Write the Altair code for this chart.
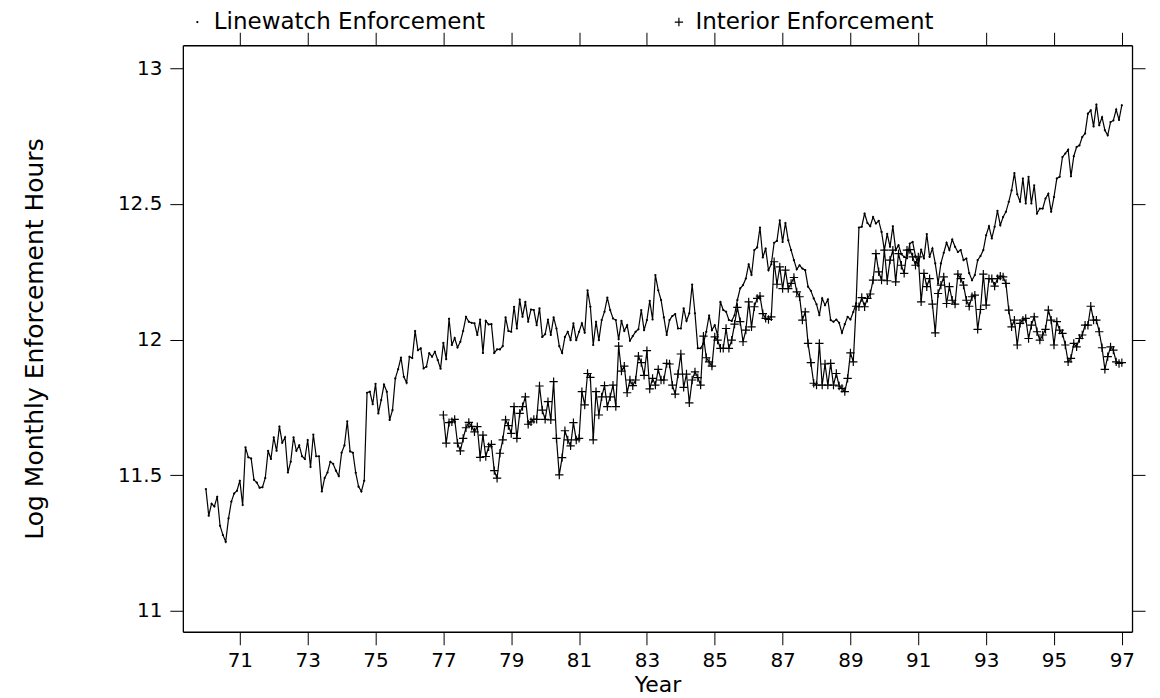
import altair as alt
import pandas as pd

# ---------------- data (log monthly enforcement hours) ----------------
SERIES = ["Linewatch Enforcement", "Interior Enforcement"]
LW_START = 70.0   # first linewatch month (year 1970)
IN_START = 77.0   # first interior month (year 1977)
YEAR_TICKS = list(range(71, 98, 2))
LOG_TICKS = [11, 11.5, 12, 12.5, 13]

lw_1970_73 = [11.449, 11.351, 11.395, 11.385, 11.421, 11.314, 11.28, 11.255, 11.341, 11.403,
              11.433, 11.443, 11.48, 11.39, 11.603, 11.566, 11.562, 11.483, 11.473, 11.454,
              11.456, 11.49, 11.59, 11.56, 11.64, 11.59, 11.68, 11.62, 11.64, 11.51,
              11.55, 11.64, 11.59, 11.61, 11.57, 11.56, 11.63, 11.53, 11.65, 11.57,
              11.57, 11.44, 11.49, 11.51]
lw_1973_77 = [11.55, 11.542, 11.517, 11.497, 11.583, 11.61, 11.699, 11.588, 11.583, 11.509,
              11.458, 11.44, 11.48, 11.804, 11.808, 11.762, 11.837, 11.728, 11.777, 11.834,
              11.808, 11.704, 11.74, 11.857, 11.891, 11.934, 11.863, 11.841, 11.937, 11.932,
              12.032, 11.961, 11.968, 11.894, 11.9, 11.95, 11.937, 11.955, 11.925, 11.893,
              11.988, 11.928, 12.077, 11.98, 12.006, 11.971, 11.992, 12.032, 12.084, 12.066]
lw_1977_81 = [12.062, 12.06, 12.017, 12.074, 11.951, 12.069, 12.056, 12.057, 11.951, 11.964,
              11.964, 11.976, 12.082, 12.032, 12.029, 12.121, 12.041, 12.148, 12.084, 12.139,
              12.066, 12.111, 12.109, 12.053, 12.115, 12.01, 12.02, 12.074, 12.017, 12.082,
              12.041, 11.976, 11.951, 12.01, 12.029, 11.998, 12.06, 11.998, 12.029, 12.06,
              12.025, 12.182, 12.121, 11.98, 12.066, 11.998]
lw_1981_85 = [12.072, 12.103, 12.155, 12.109, 12.078, 12.072, 12.001, 12.069, 12.032, 12.053,
              11.996, 12.013, 12.029, 12.038, 12.109, 12.035, 12.072, 12.143, 12.074, 12.238,
              12.182, 12.146, 12.082, 12.017, 12.072, 12.087, 12.094, 12.041, 12.041, 12.115,
              12.069, 12.097, 12.203, 12.097, 11.968, 11.968, 11.986, 12.029, 12.089, 12.035,
              12.053, 12.017, 12.139, 12.109, 12.103, 12.072, 12.069, 12.09, 12.146, 12.189]
lw_1985_89 = [12.201, 12.225, 12.278, 12.238, 12.33, 12.34, 12.413, 12.303, 12.336, 12.256,
              12.278, 12.357, 12.364, 12.44, 12.36, 12.43, 12.366, 12.33, 12.293, 12.259,
              12.274, 12.262, 12.256, 12.195, 12.18, 12.152, 12.13, 12.09, 12.152, 12.127,
              12.148, 12.072, 12.066, 12.074, 12.062, 12.025, 12.057, 12.084, 12.074, 12.102,
              12.133, 12.413, 12.416, 12.465, 12.43, 12.418, 12.452, 12.428]
lw_1989_93 = [12.438, 12.397, 12.33, 12.39, 12.342, 12.418, 12.33, 12.348, 12.315, 12.305,
              12.30, 12.354, 12.36, 12.308, 12.271, 12.332, 12.299, 12.389, 12.305, 12.336,
              12.281, 12.207, 12.281, 12.32, 12.357, 12.33, 12.369, 12.342, 12.323, 12.33,
              12.293, 12.299, 12.245, 12.219, 12.238, 12.293, 12.308, 12.33, 12.385, 12.418,
              12.373, 12.416, 12.475, 12.422, 12.452, 12.471, 12.508, 12.55]
lw_1993_97 = [12.614, 12.536, 12.508, 12.594, 12.502, 12.60, 12.502, 12.569, 12.465, 12.483,
              12.483, 12.52, 12.538, 12.471, 12.526, 12.594, 12.60, 12.673, 12.686, 12.70,
              12.602, 12.676, 12.71, 12.716, 12.747, 12.76, 12.833, 12.845, 12.786, 12.867,
              12.79, 12.82, 12.772, 12.753, 12.802, 12.808, 12.848, 12.81, 12.864]

in_1977_81 = [11.722, 11.618, 11.694, 11.697, 11.706, 11.618, 11.590, 11.636, 11.675, 11.695,
              11.68, 11.66, 11.679, 11.566, 11.648, 11.569, 11.605, 11.614, 11.517, 11.489,
              11.581, 11.63, 11.704, 11.683, 11.654, 11.753, 11.636, 11.728, 11.753, 11.789,
              11.688, 11.697, 11.706, 11.706, 11.829, 11.74, 11.706, 11.771, 11.704, 11.845,
              11.636, 11.501, 11.565, 11.664, 11.63, 11.608, 11.694, 11.63, 11.636, 11.808,
              11.759, 11.875, 11.861, 11.63, 11.808, 11.722, 11.789, 11.83]
in_1981_85 = [11.753, 11.789, 11.832, 11.753, 11.976, 11.884, 11.902, 11.804, 11.851, 11.83,
              11.851, 11.939, 11.915, 11.868, 11.959, 11.818, 11.857, 11.832, 11.89, 11.851,
              11.851, 11.912, 11.91, 11.832, 11.799, 11.873, 11.947, 11.824, 11.873, 11.767,
              11.851, 11.881, 11.86, 11.832, 12.013, 11.933, 11.918, 11.902, 12.01, 11.998,
              11.968, 11.968, 12.041, 11.968, 11.998, 12.057, 12.119]
in_1985_89 = [12.066, 11.992, 12.035, 12.139, 12.047, 12.121, 12.152, 12.16, 12.096, 12.078,
              12.074, 12.084, 12.287, 12.204, 12.268, 12.188, 12.256, 12.188, 12.207, 12.229,
              12.176, 12.158, 12.072, 12.102, 11.986, 11.915, 11.839, 11.832, 11.986, 11.832,
              11.91, 11.832, 11.912, 11.832, 11.875, 11.829, 11.82, 11.808, 11.857, 11.951,
              11.918, 12.123, 12.121, 12.155, 12.121, 12.152]
in_1989_93 = [12.168, 12.219, 12.317, 12.25, 12.219, 12.33, 12.217, 12.293, 12.33, 12.213,
              12.317, 12.274, 12.244, 12.33, 12.332, 12.305, 12.274, 12.305, 12.139, 12.244,
              12.195, 12.225, 12.131, 12.025, 12.17, 12.201, 12.231, 12.133, 12.195, 12.145,
              12.131, 12.241, 12.225, 12.201, 12.145, 12.123, 12.158, 12.164, 12.038, 12.111,
              12.241, 12.127, 12.225, 12.225, 12.197, 12.225, 12.234]
in_1993_97 = [12.231, 12.207, 12.109, 12.047, 12.072, 11.98, 12.06, 12.072, 12.078, 12.004,
              12.053, 12.084, 12.029, 11.998, 12.017, 12.038, 12.109, 12.072, 11.98, 12.066,
              12.035, 12.023, 11.98, 11.918, 11.931, 11.986, 11.973, 12.004, 12.017, 12.053,
              12.053, 12.123, 12.072, 12.072, 12.029, 11.97, 11.89, 11.937, 11.973, 11.961,
              11.918, 11.912, 11.915]

linewatch = lw_1970_73 + lw_1973_77 + lw_1977_81 + lw_1981_85 + lw_1985_89 + lw_1989_93 + lw_1993_97
interior = in_1977_81 + in_1981_85 + in_1985_89 + in_1989_93 + in_1993_97

lw_df = pd.DataFrame({"year": [LW_START + i / 12 for i in range(len(linewatch))],
                      "hours": linewatch, "series": SERIES[0]})
in_df = pd.DataFrame({"year": [IN_START + j / 12 for j in range(len(interior))],
                      "hours": interior, "series": SERIES[1]})
df = pd.concat([lw_df, in_df], ignore_index=True)

# ---------------- chart ----------------
FONT = "DejaVu Sans"
PLUS = "M-1,0L1,0M0,-1L0,1"
DOT = "M-0.12,0A0.12,0.12,0,1,1,0.12,0A0.12,0.12,0,1,1,-0.12,0Z"

x_scale = alt.Scale(domain=[69.32, 97.3], nice=False, zero=False)
y_scale = alt.Scale(domain=[10.923, 13.085], nice=False, zero=False)

common = dict(labelFont=FONT, titleFont=FONT, tickColor="black", tickWidth=1, tickSize=13,
              domain=True, domainColor="black", domainWidth=1.3, grid=False,
              labelColor="black", titleColor="black")

lines = alt.Chart(df).mark_line(color="black", strokeWidth=1.2).encode(
    x=alt.X("year:Q", scale=x_scale,
            axis=alt.Axis(orient="bottom", values=YEAR_TICKS, format="d", labelFontSize=20,
                          labelPadding=6, title="Year", titleFontSize=22, titleFontWeight="normal",
                          titlePadding=4, **common)),
    y=alt.Y("hours:Q", scale=y_scale,
            axis=alt.Axis(orient="left", values=LOG_TICKS, format="~g", labelFontSize=20,
                          labelPadding=8, title="Log Monthly Enforcement Hours", titleFontSize=25,
                          titleFontWeight="normal", titlePadding=70, **common)),
    detail="series:N",
)

marks = alt.Chart(df).mark_point(filled=False, color="black", strokeWidth=1.2, size=70, opacity=1).encode(
    x=alt.X("year:Q", scale=x_scale,
            axis=alt.Axis(orient="top", values=YEAR_TICKS, labels=False, title=None, **common)),
    y=alt.Y("hours:Q", scale=y_scale,
            axis=alt.Axis(orient="right", values=LOG_TICKS, labels=False, title=None, **common)),
    shape=alt.Shape("series:N", scale=alt.Scale(domain=SERIES, range=[DOT, PLUS]),
                    legend=alt.Legend(orient="none", legendX=3, legendY=-35, direction="horizontal",
                                      title=None, labelFont=FONT, labelFontSize=23, labelColor="black",
                                      labelOffset=5, labelLimit=500, columnPadding=182,
                                      symbolSize=70, symbolStrokeColor="black", symbolStrokeWidth=1.2,
                                      padding=0)),
)

chart = (
    alt.layer(lines, marks)
    .resolve_axis(x="independent", y="independent")
    .properties(width=950, height=587,
                padding={"left": 175, "top": 37, "right": 20, "bottom": 66},
                autosize=alt.AutoSizeParams(type="none"))
    .configure_view(stroke="black", strokeWidth=1)
    .configure(background="white")
)

chart.save("out.html", embed_options={"renderer": "svg", "actions": False})
